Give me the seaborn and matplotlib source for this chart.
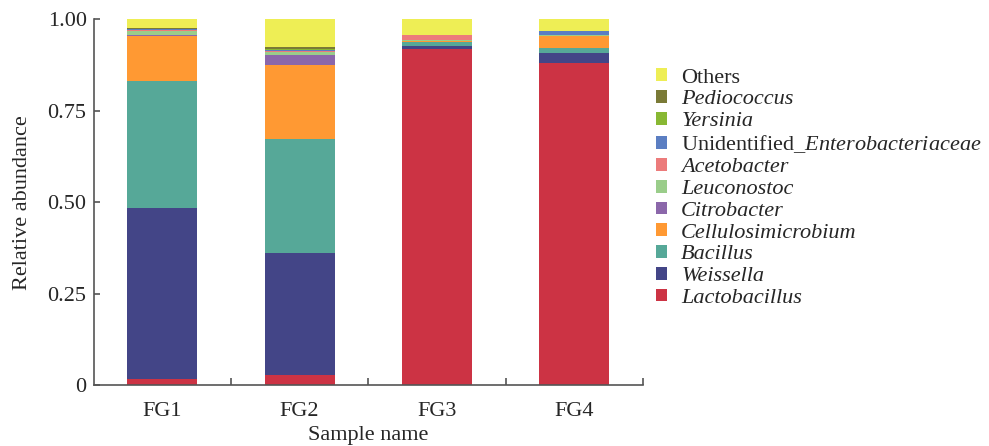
import numpy as np
import pandas as pd
import matplotlib
matplotlib.use("Agg")
import matplotlib.pyplot as plt
from matplotlib.patches import Patch
from matplotlib.ticker import FixedLocator
import seaborn as sns

samples = ["FG1", "FG2", "FG3", "FG4"]

# stacking order: bottom -> top
taxa = ["Lactobacillus", "Weissella", "Bacillus", "Cellulosimicrobium", "Citrobacter",
        "Leuconostoc", "Acetobacter", "Unidentified_Enterobacteriaceae", "Yersinia",
        "Pediococcus", "Others"]

lactobacillus = [0.016, 0.027, 0.919, 0.880]
weissella = [0.467, 0.333, 0.008, 0.028]
bacillus = [0.348, 0.313, 0.010, 0.014]
cellulosimicrobium = [0.124, 0.203, 0.005, 0.032]
citrobacter = [0.001, 0.027, 0.000, 0.000]
leuconostoc = [0.012, 0.008, 0.001, 0.002]
acetobacter = [0.004, 0.002, 0.013, 0.002]
unidentified_entero = [0.001, 0.003, 0.001, 0.009]
yersinia = [0.001, 0.004, 0.000, 0.000]
pediococcus = [0.003, 0.005, 0.000, 0.000]
others = [0.023, 0.075, 0.043, 0.033]

colors = ["#CC3344", "#434587", "#56A898", "#FF9933", "#8B67AA",
          "#9ACD8A", "#EC7B7B", "#5B7EC2", "#88B833", "#7A7A36", "#EEEE55"]

values = [lactobacillus, weissella, bacillus, cellulosimicrobium, citrobacter,
          leuconostoc, acetobacter, unidentified_entero, yersinia, pediococcus, others]

df = pd.DataFrame(dict(zip(taxa, values)), index=samples)
cum = df.cumsum(axis=1)

sns.set_style("white")
plt.rcParams["font.family"] = ["Liberation Serif", "DejaVu Serif"]
plt.rcParams["mathtext.fontset"] = "custom"
plt.rcParams["mathtext.rm"] = "Liberation Serif"
plt.rcParams["mathtext.it"] = "Liberation Serif:italic"

fig = plt.figure(figsize=(9.89, 4.46), dpi=100)
ax = fig.add_axes([0.0946, 0.1368, 0.650 - 0.0946, 0.9567 - 0.1368])

for taxon, col in reversed(list(zip(taxa, colors))):
    sns.barplot(x=samples, y=cum[taxon].values, color=col, saturation=1,
                width=0.51, ax=ax, linewidth=0)

ax.set_xlim(-0.5, 3.5)
ax.set_ylim(0, 1.0)

spine_col = "#555555"
for s in ["top", "right"]:
    ax.spines[s].set_visible(False)
for s in ["left", "bottom"]:
    ax.spines[s].set_color(spine_col)
    ax.spines[s].set_linewidth(1.2)

ax.set_yticks([0, 0.25, 0.5, 0.75, 1.0])
ax.set_yticklabels(["0", "0.25", "0.50", "0.75", "1.00"])
ax.tick_params(axis="y", direction="in", length=4, width=1.2, color=spine_col,
               labelsize=16, pad=5, left=True)
ax.set_xticks(range(4))
ax.set_xticklabels(samples)
ax.tick_params(axis="x", which="major", length=0, labelsize=16, pad=12)
ax.xaxis.set_minor_locator(FixedLocator([0.5, 1.5, 2.5, 3.5]))
ax.tick_params(axis="x", which="minor", direction="in", length=5, width=1.2,
               color=spine_col, bottom=True)

ax.set_xlabel("Sample name", fontsize=16)
ax.set_ylabel("Relative abundance", fontsize=16)
ax.xaxis.set_label_coords(0.5, -0.113)
ax.yaxis.set_label_coords(-0.112, 0.5)

labels = ["Others", "Pediococcus", "Yersinia",
          "Unidentified_$\\mathit{Enterobacteriaceae}$", "Acetobacter",
          "Leuconostoc", "Citrobacter", "Cellulosimicrobium", "Bacillus",
          "Weissella", "Lactobacillus"]
leg_colors = list(reversed(colors))
handles = [Patch(facecolor=c, edgecolor="none") for c in leg_colors]
leg = fig.legend(handles, labels, loc="center left",
                 bbox_to_anchor=(0.654, 0.578), frameon=False, fontsize=16,
                 handlelength=0.5, handleheight=0.5, handletextpad=0.65,
                 labelspacing=0.115, borderaxespad=0)
for t in leg.get_texts():
    if t.get_text() not in ("Others",) and not t.get_text().startswith("Unidentified"):
        t.set_fontstyle("italic")

fig.savefig("out.png", dpi=100)
